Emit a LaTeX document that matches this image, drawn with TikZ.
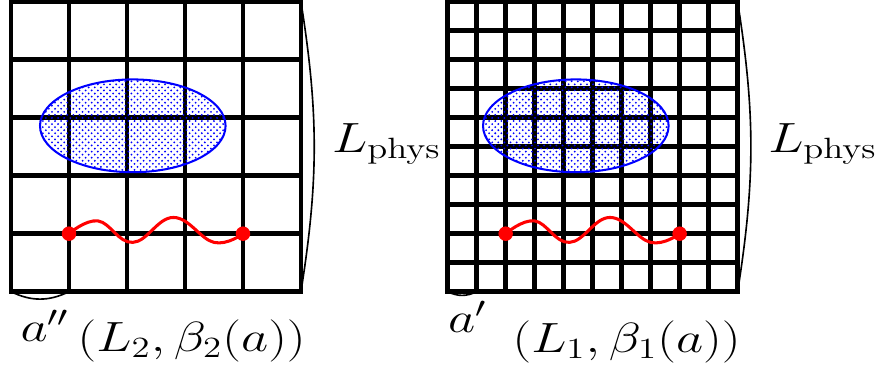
\documentclass[tikz,border=0pt]{standalone}
\usepackage{amsmath, amssymb}
\usepackage{tikz}
\usetikzlibrary{patterns}
\tikzset{
  gridline/.style={draw=black, line width=2.3pt, line cap=rect},
  blob/.style={draw=blue, line width=1pt,
               pattern=crosshatch dots, pattern color=blue},
  redV/.style={circle, fill=red, inner sep=0pt, minimum size=0.25cm},
  wiggle/.style={draw=red, line width=1.5pt},
  brace/.style={draw=black, line width=0.8pt},
  lbl/.style={inner sep=0pt, font=\huge, xscale=1.25, transform shape},
}

\begin{document}
\begin{tikzpicture}
    \useasboundingbox (-0.19,-1.38) rectangle (15.02,5.03);
    \foreach \p/\x/\st/\ex in {c/0/1/2.1, f/7.53/0.5/2.21}{
      \begin{scope}[xshift=\x cm]
        %% lattice
        \draw[gridline, step=\st] (0,0) grid (5,5);
        \coordinate (\p-bl) at (0,0);
        \coordinate (\p-b1) at (\st,0);
        \coordinate (\p-br) at (5,0);
        \coordinate (\p-tr) at (5,5);
        %% blob
        \draw[blob] (\ex,2.86) ellipse (1.6 and 0.8);
        %% string between two sites
        \node[redV] (\p-d1) at (1,1) {};
        \node[redV] (\p-d2) at (4,1) {};
        \draw[wiggle] plot[smooth, tension=0.7] coordinates
          {(\p-d1) (1.5,1.22) (2.1,0.85) (2.8,1.28) (3.5,0.85) (\p-d2)};
        %% braces
        \draw[brace] (\p-tr) to[bend left=9] (\p-br);
        \draw[brace] (\p-bl) to[bend right=26] (\p-b1);
      \end{scope}
    }
    %% labels
    \node[lbl, anchor=base west] (Lc) at (5.53,2.40) {$L_{\text{phys}}$};
    \node[lbl, anchor=base west] (Lf) at (13.05,2.40) {$L_{\text{phys}}$};
    \node[lbl, anchor=base west] (ac) at (0.155,-0.86) {$a''$};
    \node[lbl, anchor=base west] (tc) at (1.14,-1.03) {$(L_2,\beta_2(a))$};
    \node[lbl, anchor=base west] (af) at (7.53,-0.71) {$a'$};
    \node[lbl, anchor=base west] (tf) at (8.64,-1.05) {$(L_1,\beta_1(a))$};
  \end{tikzpicture}
\end{document}
